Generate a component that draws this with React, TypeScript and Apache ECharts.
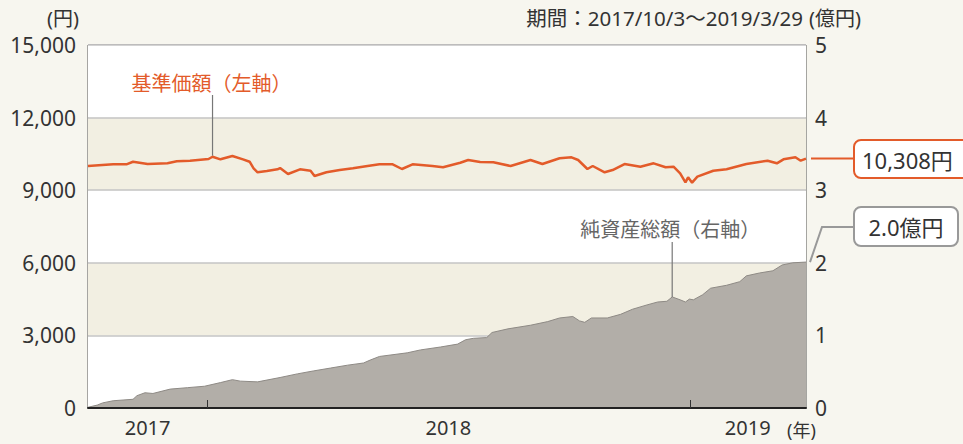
import React, { useEffect, useRef } from 'react';
import * as echarts from 'echarts';

// 基準価額（円）
const navDates = [
  '2017-10-03', '2017-10-22', '2017-11-01', '2017-11-06', '2017-11-17', '2017-12-02', '2017-12-09', '2017-12-19',
  '2018-01-02', '2018-01-05', '2018-01-11', '2018-01-20', '2018-01-28', '2018-02-02', '2018-02-05', '2018-02-08',
  '2018-02-15', '2018-02-23', '2018-02-25', '2018-03-03', '2018-03-12', '2018-03-20', '2018-03-23', '2018-04-01',
  '2018-04-11', '2018-04-21', '2018-05-02', '2018-05-11', '2018-05-21', '2018-05-28', '2018-06-05', '2018-06-20',
  '2018-06-28', '2018-07-11', '2018-07-17', '2018-07-26', '2018-08-05', '2018-08-18', '2018-09-02', '2018-09-11',
  '2018-09-24', '2018-10-03', '2018-10-08', '2018-10-15', '2018-10-19', '2018-10-28', '2018-11-03', '2018-11-12',
  '2018-11-24', '2018-12-04', '2018-12-13', '2018-12-19', '2018-12-24', '2018-12-28', '2018-12-30', '2019-01-02',
  '2019-01-06', '2019-01-18', '2019-01-28', '2019-02-12', '2019-02-28', '2019-03-07', '2019-03-12', '2019-03-21',
  '2019-03-25', '2019-03-29'
];
const navValues = [
  10000, 10070, 10070, 10177, 10082, 10111, 10194, 10219,
  10289, 10384, 10276, 10413, 10276, 10177, 9905, 9739,
  9793, 9863, 9917, 9669, 9863, 9805, 9586, 9739,
  9834, 9905, 10000, 10070, 10070, 9876, 10070, 10000,
  9946, 10136, 10248, 10165, 10152, 10000, 10248, 10082,
  10318, 10359, 10248, 9876, 10000, 9739, 9834, 10082,
  9971, 10111, 9946, 9971, 9698, 9326, 9533, 9310,
  9558, 9805, 9863, 10082, 10219, 10111, 10276, 10359,
  10219, 10308
];

// 純資産総額（億円）
const assetDates = [
  '2017-10-03', '2017-10-10', '2017-10-14', '2017-10-22', '2017-11-06', '2017-11-09', '2017-11-15', '2017-11-21',
  '2017-12-04', '2017-12-17', '2017-12-30', '2018-01-11', '2018-01-20', '2018-01-26', '2018-02-08', '2018-02-25',
  '2018-03-10', '2018-03-22', '2018-04-04', '2018-04-17', '2018-04-29', '2018-05-04', '2018-05-11', '2018-06-01',
  '2018-06-11', '2018-06-26', '2018-07-09', '2018-07-15', '2018-07-21', '2018-07-31', '2018-08-04', '2018-08-16',
  '2018-09-02', '2018-09-15', '2018-09-24', '2018-10-04', '2018-10-09', '2018-10-13', '2018-10-18', '2018-10-30',
  '2018-11-09', '2018-11-18', '2018-11-29', '2018-12-07', '2018-12-14', '2018-12-18', '2018-12-24', '2018-12-28',
  '2018-12-31', '2019-01-03', '2019-01-10', '2019-01-16', '2019-01-28', '2019-02-07', '2019-02-12', '2019-02-22',
  '2019-03-04', '2019-03-11', '2019-03-19', '2019-03-29'
];
const assetValues = [
  0.01, 0.04, 0.07, 0.10, 0.12, 0.17, 0.21, 0.20,
  0.26, 0.28, 0.30, 0.35, 0.39, 0.37, 0.36, 0.42,
  0.47, 0.51, 0.55, 0.59, 0.62, 0.66, 0.71, 0.76,
  0.80, 0.84, 0.88, 0.94, 0.96, 0.97, 1.04, 1.09,
  1.14, 1.19, 1.24, 1.26, 1.20, 1.18, 1.24, 1.24,
  1.29, 1.36, 1.42, 1.46, 1.47, 1.53, 1.49, 1.46,
  1.50, 1.49, 1.56, 1.65, 1.69, 1.74, 1.82, 1.86,
  1.89, 1.97, 2.00, 2.01
];

const startDate = '2017-10-03';
const endDate = '2019-03-29';
const yearTickDates = ['2018-01-01', '2019-01-01'];
const yearLabelDates = ['2017-11-17', '2018-07-02', '2019-02-13'];
const periodText = '期間：2017/10/3～2019/3/29';
const navLabel = '基準価額（左軸）';
const assetLabel = '純資産総額（右軸）';
const navLeaderDate = '2018-01-05';
const assetLeaderDate = '2018-12-18';
const lastNavText = '10,308円';
const lastAssetText = '2.0億円';

const FONT = '"Noto Sans CJK JP", "Noto Sans", sans-serif';
const NUMFONT = '"Noto Sans", "Noto Sans CJK JP", sans-serif';
const ORANGE = '#e35b2a';
const TEXT = '#333333';

const DAY = 86400000;
const utc = (s: string) => {
  const [y, m, d] = s.split('-').map(Number);
  return Date.UTC(y, m - 1, d);
};
const dayIndex = (s: string) => Math.round((utc(s) - utc(startDate)) / DAY);
const yearOfDay = (n: number) => new Date(utc(startDate) + n * DAY).getUTCFullYear();

export default function App() {
  const ref = useRef<HTMLDivElement>(null);
  useEffect(() => {
    const chart = echarts.init(ref.current!, null, { renderer: 'svg' });
    const navData = navDates.map((d, i) => [dayIndex(d), navValues[i]]);
    const assetData = assetDates.map((d, i) => [dayIndex(d), assetValues[i]]);
    chart.setOption({
      animation: false,
      backgroundColor: '#f7f6ef',
      textStyle: { fontFamily: FONT },
      grid: {
        left: 88, right: 157, top: 45, bottom: 36,
        show: true, backgroundColor: '#ffffff', borderColor: '#555', borderWidth: 1,
      },
      xAxis: {
        type: 'value',
        min: 0,
        max: dayIndex(endDate),
        z: 10,
        axisLine: { show: true, lineStyle: { color: '#222', width: 2 } },
        axisTick: {
          show: true, inside: true, length: 8,
          lineStyle: { color: '#333', width: 1 },
          customValues: yearTickDates.map(dayIndex),
        },
        axisLabel: {
          customValues: yearLabelDates.map(dayIndex),
          formatter: (v: number) => String(yearOfDay(v)),
          color: TEXT, fontSize: 20, margin: 9, fontFamily: NUMFONT,
        },
        splitLine: { show: false },
      },
      yAxis: [
        {
          type: 'value', min: 0, max: 15000, interval: 3000,
          axisLine: { show: false }, axisTick: { show: false },
          axisLabel: {
            color: TEXT, fontSize: 21, margin: 12, fontFamily: NUMFONT,
            formatter: (v: number) => v.toLocaleString('en-US'),
          },
          splitLine: { show: true, lineStyle: { color: '#c4c4c4', width: 1.5 } },
          splitArea: { show: true, areaStyle: { color: ['#ffffff', '#f2efe2'] } },
        },
        {
          type: 'value', min: 0, max: 5, interval: 1,
          axisLine: { show: false }, axisTick: { show: false },
          axisLabel: { color: TEXT, fontSize: 21, margin: 9, fontFamily: NUMFONT },
          splitLine: { show: false },
        },
      ],
      series: [
        {
          type: 'line', name: '純資産総額', yAxisIndex: 1, data: assetData,
          showSymbol: false, symbol: 'none',
          lineStyle: { color: '#8e8a85', width: 1 },
          areaStyle: { color: '#b2aea8', opacity: 1 },
          z: 2,
        },
        {
          type: 'line', name: '基準価額', yAxisIndex: 0, data: navData,
          showSymbol: false, symbol: 'none',
          lineStyle: { color: ORANGE, width: 2.5 },
          z: 3,
        },
      ],
    });

    const p = (d: string, v: number, yi: number) =>
      chart.convertToPixel({ xAxisIndex: 0, yAxisIndex: yi }, [dayIndex(d), v]) as number[];
    const navIdx = navDates.indexOf(navLeaderDate);
    const assetIdx = assetDates.indexOf(assetLeaderDate);
    const navPt = p(navLeaderDate, navValues[navIdx], 0);
    const assetPt = p(assetLeaderDate, assetValues[assetIdx], 1);
    const navLast = p(endDate, navValues[navValues.length - 1], 0);
    const assetLast = p(endDate, assetValues[assetValues.length - 1], 1);

    chart.setOption({
      graphic: [
        { type: 'text', x: 79, y: 18, style: { text: '(円)', fill: TEXT, font: `20px ${NUMFONT}`, align: 'right', verticalAlign: 'middle' } },
        { type: 'text', x: 803, y: 18, style: { text: periodText, fill: TEXT, font: `20.5px ${NUMFONT}`, align: 'right', verticalAlign: 'middle' } },
        { type: 'text', x: 809, y: 18, style: { text: '(億円)', fill: TEXT, font: `20px ${NUMFONT}`, align: 'left', verticalAlign: 'middle' } },
        { type: 'text', x: 787, y: 430, style: { text: '(年)', fill: TEXT, font: `18px ${NUMFONT}`, align: 'left', verticalAlign: 'middle' } },
        { type: 'line', shape: { x1: navPt[0], y1: 95, x2: navPt[0], y2: navPt[1] - 1 }, style: { stroke: '#777', lineWidth: 1.2 }, z: 10 },
        { type: 'text', x: navPt[0] - 1, y: 82, style: { text: navLabel, fill: ORANGE, font: `20px ${FONT}`, align: 'center', verticalAlign: 'middle' }, z: 10 },
        { type: 'line', shape: { x1: assetPt[0], y1: 242, x2: assetPt[0], y2: assetPt[1] }, style: { stroke: '#777', lineWidth: 1.2 }, z: 10 },
        { type: 'text', x: assetPt[0] - 2, y: 228, style: { text: assetLabel, fill: '#666', font: `20px ${FONT}`, align: 'center', verticalAlign: 'middle' }, z: 10 },
        { type: 'line', shape: { x1: navLast[0] + 5, y1: navLast[1], x2: 854, y2: navLast[1] }, style: { stroke: ORANGE, lineWidth: 2 }, z: 10 },
        { type: 'rect', shape: { x: 854, y: 140, width: 120, height: 38, r: 7 }, style: { fill: '#fff', stroke: ORANGE, lineWidth: 2 }, z: 10 },
        { type: 'text', x: 862, y: 160, style: { text: lastNavText, fill: TEXT, font: `22px ${NUMFONT}`, align: 'left', verticalAlign: 'middle' }, z: 11 },
        { type: 'polyline', shape: { points: [[assetLast[0] + 4, assetLast[1]], [822, 227], [854, 227]] }, style: { stroke: '#999', lineWidth: 2, fill: 'none' }, z: 10 },
        { type: 'rect', shape: { x: 854, y: 207, width: 104, height: 39, r: 7 }, style: { fill: '#fff', stroke: '#999', lineWidth: 2 }, z: 10 },
        { type: 'text', x: 906, y: 227, style: { text: lastAssetText, fill: TEXT, font: `22px ${NUMFONT}`, align: 'center', verticalAlign: 'middle' }, z: 11 },
      ],
    });
    return () => chart.dispose();
  }, []);
  return <div ref={ref} style={{ position: 'fixed', left: 0, top: 0, width: 963, height: 444 }} />;
}
